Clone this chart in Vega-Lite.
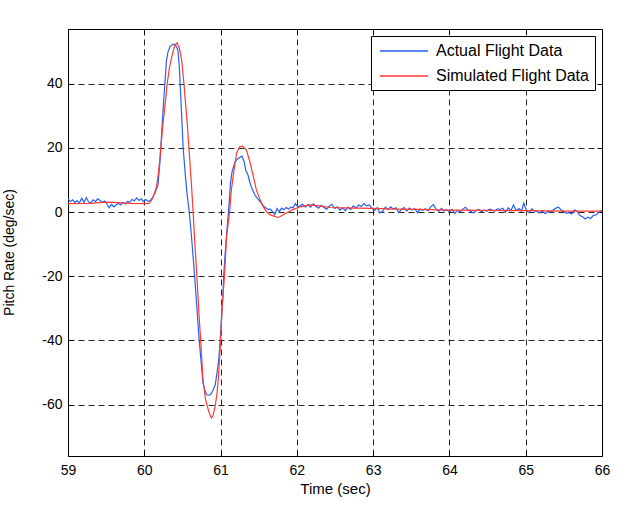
{
  "$schema": "https://vega.github.io/schema/vega-lite/v6.json",
  "width": 534,
  "height": 427,
  "autosize": {"type": "none"},
  "padding": {"left": 68, "top": 29, "right": 19, "bottom": 58},
  "background": "white",
  "config": {
    "font": "Liberation Sans",
    "view": {"stroke": "#000", "strokeWidth": 1},
    "axis": {
      "labelColor": "#000", "tickColor": "#000", "titleColor": "#000",
      "labelFont": "Liberation Sans", "titleFont": "Liberation Sans",
      "titleFontWeight": "normal", "domain": false,
      "tickSize": -5, "tickWidth": 1, "labelFlush": false,
      "labelExpr": "toString(datum.value)"
    },
    "legend": {
      "orient": "top-right", "offset": 7, "title": null,
      "symbolType": "M-3,0H3", "symbolSize": 256, "symbolStrokeWidth": 1.3, "symbolOffset": 18,
      "labelFontSize": 16, "labelFont": "Liberation Sans", "labelColor": "#000",
      "labelOffset": 23, "padding": 6, "rowPadding": 8,
      "strokeColor": "#000", "fillColor": "white", "labelLimit": 300
    }
  },
  "datasets": {
    "flight": [
      {"t":59.00,"v":4.2,"s":"Actual Flight Data"},{"t":59.03,"v":3.2,"s":"Actual Flight Data"},{"t":59.06,"v":3.8,"s":"Actual Flight Data"},{"t":59.09,"v":3.0,"s":"Actual Flight Data"},{"t":59.12,"v":3.5,"s":"Actual Flight Data"},{"t":59.15,"v":2.9,"s":"Actual Flight Data"},{"t":59.18,"v":4.3,"s":"Actual Flight Data"},{"t":59.21,"v":3.0,"s":"Actual Flight Data"},{"t":59.24,"v":4.5,"s":"Actual Flight Data"},{"t":59.27,"v":3.1,"s":"Actual Flight Data"},{"t":59.30,"v":2.9,"s":"Actual Flight Data"},{"t":59.33,"v":3.8,"s":"Actual Flight Data"},{"t":59.36,"v":3.2,"s":"Actual Flight Data"},{"t":59.39,"v":4.1,"s":"Actual Flight Data"},{"t":59.42,"v":3.6,"s":"Actual Flight Data"},{"t":59.45,"v":3.0,"s":"Actual Flight Data"},{"t":59.48,"v":3.4,"s":"Actual Flight Data"},{"t":59.51,"v":2.5,"s":"Actual Flight Data"},{"t":59.54,"v":1.3,"s":"Actual Flight Data"},{"t":59.57,"v":2.4,"s":"Actual Flight Data"},{"t":59.60,"v":1.6,"s":"Actual Flight Data"},{"t":59.63,"v":2.2,"s":"Actual Flight Data"},{"t":59.66,"v":2.7,"s":"Actual Flight Data"},{"t":59.69,"v":2.2,"s":"Actual Flight Data"},{"t":59.72,"v":3.0,"s":"Actual Flight Data"},{"t":59.75,"v":2.5,"s":"Actual Flight Data"},{"t":59.78,"v":3.3,"s":"Actual Flight Data"},{"t":59.81,"v":3.0,"s":"Actual Flight Data"},{"t":59.84,"v":3.9,"s":"Actual Flight Data"},{"t":59.87,"v":3.5,"s":"Actual Flight Data"},{"t":59.90,"v":4.4,"s":"Actual Flight Data"},{"t":59.93,"v":3.6,"s":"Actual Flight Data"},{"t":59.96,"v":4.1,"s":"Actual Flight Data"},{"t":59.99,"v":3.2,"s":"Actual Flight Data"},{"t":60.02,"v":3.9,"s":"Actual Flight Data"},{"t":60.05,"v":3.3,"s":"Actual Flight Data"},{"t":60.08,"v":3.6,"s":"Actual Flight Data"},{"t":60.11,"v":4.5,"s":"Actual Flight Data"},{"t":60.14,"v":6.0,"s":"Actual Flight Data"},{"t":60.18,"v":8.4,"s":"Actual Flight Data"},{"t":60.21,"v":17,"s":"Actual Flight Data"},{"t":60.23,"v":25.5,"s":"Actual Flight Data"},{"t":60.25,"v":33,"s":"Actual Flight Data"},{"t":60.27,"v":40,"s":"Actual Flight Data"},{"t":60.29,"v":47,"s":"Actual Flight Data"},{"t":60.31,"v":49.8,"s":"Actual Flight Data"},{"t":60.34,"v":51.6,"s":"Actual Flight Data"},{"t":60.38,"v":52.3,"s":"Actual Flight Data"},{"t":60.41,"v":52,"s":"Actual Flight Data"},{"t":60.44,"v":50.5,"s":"Actual Flight Data"},{"t":60.46,"v":45,"s":"Actual Flight Data"},{"t":60.47,"v":40,"s":"Actual Flight Data"},{"t":60.49,"v":30,"s":"Actual Flight Data"},{"t":60.51,"v":19.8,"s":"Actual Flight Data"},{"t":60.54,"v":11,"s":"Actual Flight Data"},{"t":60.56,"v":5.8,"s":"Actual Flight Data"},{"t":60.59,"v":0,"s":"Actual Flight Data"},{"t":60.62,"v":-8,"s":"Actual Flight Data"},{"t":60.64,"v":-14,"s":"Actual Flight Data"},{"t":60.66,"v":-20,"s":"Actual Flight Data"},{"t":60.69,"v":-30,"s":"Actual Flight Data"},{"t":60.72,"v":-40,"s":"Actual Flight Data"},{"t":60.75,"v":-48,"s":"Actual Flight Data"},{"t":60.77,"v":-53.3,"s":"Actual Flight Data"},{"t":60.80,"v":-56,"s":"Actual Flight Data"},{"t":60.82,"v":-57,"s":"Actual Flight Data"},{"t":60.86,"v":-57,"s":"Actual Flight Data"},{"t":60.88,"v":-56.5,"s":"Actual Flight Data"},{"t":60.91,"v":-55,"s":"Actual Flight Data"},{"t":60.93,"v":-53.8,"s":"Actual Flight Data"},{"t":60.96,"v":-49,"s":"Actual Flight Data"},{"t":60.98,"v":-45,"s":"Actual Flight Data"},{"t":61.00,"v":-38,"s":"Actual Flight Data"},{"t":61.01,"v":-33.6,"s":"Actual Flight Data"},{"t":61.03,"v":-26,"s":"Actual Flight Data"},{"t":61.04,"v":-20.3,"s":"Actual Flight Data"},{"t":61.06,"v":-13,"s":"Actual Flight Data"},{"t":61.08,"v":-6.6,"s":"Actual Flight Data"},{"t":61.11,"v":2,"s":"Actual Flight Data"},{"t":61.13,"v":9,"s":"Actual Flight Data"},{"t":61.15,"v":12.5,"s":"Actual Flight Data"},{"t":61.19,"v":15.7,"s":"Actual Flight Data"},{"t":61.23,"v":16.7,"s":"Actual Flight Data"},{"t":61.28,"v":17.4,"s":"Actual Flight Data"},{"t":61.31,"v":15.6,"s":"Actual Flight Data"},{"t":61.33,"v":13,"s":"Actual Flight Data"},{"t":61.36,"v":11.5,"s":"Actual Flight Data"},{"t":61.38,"v":9.5,"s":"Actual Flight Data"},{"t":61.41,"v":7.4,"s":"Actual Flight Data"},{"t":61.45,"v":5.3,"s":"Actual Flight Data"},{"t":61.49,"v":4.0,"s":"Actual Flight Data"},{"t":61.52,"v":3.2,"s":"Actual Flight Data"},{"t":61.55,"v":2.2,"s":"Actual Flight Data"},{"t":61.58,"v":1.5,"s":"Actual Flight Data"},{"t":61.62,"v":0.8,"s":"Actual Flight Data"},{"t":61.65,"v":0.9,"s":"Actual Flight Data"},{"t":61.67,"v":0.4,"s":"Actual Flight Data"},{"t":61.71,"v":-0.8,"s":"Actual Flight Data"},{"t":61.74,"v":1.1,"s":"Actual Flight Data"},{"t":61.77,"v":0.1,"s":"Actual Flight Data"},{"t":61.80,"v":1.2,"s":"Actual Flight Data"},{"t":61.83,"v":0.7,"s":"Actual Flight Data"},{"t":61.86,"v":1.4,"s":"Actual Flight Data"},{"t":61.89,"v":0.9,"s":"Actual Flight Data"},{"t":61.92,"v":1.5,"s":"Actual Flight Data"},{"t":61.95,"v":1.3,"s":"Actual Flight Data"},{"t":61.98,"v":2.6,"s":"Actual Flight Data"},{"t":62.01,"v":1.7,"s":"Actual Flight Data"},
      {"t":62.04,"v":1.9,"s":"Actual Flight Data"},{"t":62.075,"v":2.4,"s":"Actual Flight Data"},{"t":62.11,"v":1.6,"s":"Actual Flight Data"},{"t":62.145,"v":2.3,"s":"Actual Flight Data"},{"t":62.18,"v":1.5,"s":"Actual Flight Data"},{"t":62.215,"v":2.5,"s":"Actual Flight Data"},{"t":62.25,"v":1.7,"s":"Actual Flight Data"},{"t":62.285,"v":1.2,"s":"Actual Flight Data"},{"t":62.32,"v":2.1,"s":"Actual Flight Data"},{"t":62.355,"v":1.4,"s":"Actual Flight Data"},{"t":62.39,"v":0.9,"s":"Actual Flight Data"},{"t":62.425,"v":1.8,"s":"Actual Flight Data"},{"t":62.46,"v":2.4,"s":"Actual Flight Data"},{"t":62.495,"v":1.1,"s":"Actual Flight Data"},{"t":62.53,"v":1.6,"s":"Actual Flight Data"},{"t":62.565,"v":0.6,"s":"Actual Flight Data"},{"t":62.60,"v":1.3,"s":"Actual Flight Data"},{"t":62.635,"v":0.4,"s":"Actual Flight Data"},{"t":62.67,"v":1.5,"s":"Actual Flight Data"},{"t":62.705,"v":0.8,"s":"Actual Flight Data"},{"t":62.74,"v":1.9,"s":"Actual Flight Data"},{"t":62.775,"v":1.2,"s":"Actual Flight Data"},{"t":62.81,"v":2.2,"s":"Actual Flight Data"},{"t":62.845,"v":1.7,"s":"Actual Flight Data"},{"t":62.88,"v":2.6,"s":"Actual Flight Data"},{"t":62.915,"v":1.9,"s":"Actual Flight Data"},{"t":62.95,"v":2.2,"s":"Actual Flight Data"},{"t":62.985,"v":1.1,"s":"Actual Flight Data"},{"t":63.02,"v":0.5,"s":"Actual Flight Data"},{"t":63.055,"v":1.4,"s":"Actual Flight Data"},{"t":63.09,"v":-0.3,"s":"Actual Flight Data"},{"t":63.125,"v":0.2,"s":"Actual Flight Data"},{"t":63.16,"v":1.5,"s":"Actual Flight Data"},{"t":63.195,"v":0.7,"s":"Actual Flight Data"},{"t":63.23,"v":1.6,"s":"Actual Flight Data"},{"t":63.265,"v":0.9,"s":"Actual Flight Data"},{"t":63.30,"v":1.3,"s":"Actual Flight Data"},{"t":63.335,"v":-0.2,"s":"Actual Flight Data"},{"t":63.37,"v":0.8,"s":"Actual Flight Data"},{"t":63.405,"v":1.4,"s":"Actual Flight Data"},{"t":63.44,"v":0.3,"s":"Actual Flight Data"},{"t":63.475,"v":1.2,"s":"Actual Flight Data"},{"t":63.51,"v":0.6,"s":"Actual Flight Data"},{"t":63.545,"v":1.1,"s":"Actual Flight Data"},{"t":63.58,"v":-0.2,"s":"Actual Flight Data"},{"t":63.615,"v":0.9,"s":"Actual Flight Data"},{"t":63.65,"v":0.5,"s":"Actual Flight Data"},{"t":63.685,"v":1.0,"s":"Actual Flight Data"},{"t":63.72,"v":0.4,"s":"Actual Flight Data"},{"t":63.755,"v":1.6,"s":"Actual Flight Data"},{"t":63.79,"v":2.3,"s":"Actual Flight Data"},{"t":63.825,"v":0.9,"s":"Actual Flight Data"},{"t":63.86,"v":0.2,"s":"Actual Flight Data"},{"t":63.895,"v":1.1,"s":"Actual Flight Data"},{"t":63.93,"v":0.3,"s":"Actual Flight Data"},{"t":63.965,"v":0.7,"s":"Actual Flight Data"},{"t":64.00,"v":0.1,"s":"Actual Flight Data"},{"t":64.035,"v":0.8,"s":"Actual Flight Data"},{"t":64.07,"v":-0.4,"s":"Actual Flight Data"},{"t":64.105,"v":0.5,"s":"Actual Flight Data"},{"t":64.14,"v":0.0,"s":"Actual Flight Data"},{"t":64.175,"v":0.9,"s":"Actual Flight Data"},{"t":64.21,"v":1.5,"s":"Actual Flight Data"},{"t":64.245,"v":0.6,"s":"Actual Flight Data"},{"t":64.28,"v":0.2,"s":"Actual Flight Data"},{"t":64.315,"v":-0.3,"s":"Actual Flight Data"},{"t":64.35,"v":0.4,"s":"Actual Flight Data"},{"t":64.385,"v":0.8,"s":"Actual Flight Data"},{"t":64.42,"v":0.1,"s":"Actual Flight Data"},{"t":64.455,"v":0.6,"s":"Actual Flight Data"},{"t":64.49,"v":0.2,"s":"Actual Flight Data"},{"t":64.525,"v":0.9,"s":"Actual Flight Data"},{"t":64.56,"v":0.6,"s":"Actual Flight Data"},{"t":64.595,"v":0.3,"s":"Actual Flight Data"},{"t":64.63,"v":1.0,"s":"Actual Flight Data"},{"t":64.665,"v":0.8,"s":"Actual Flight Data"},{"t":64.70,"v":1.2,"s":"Actual Flight Data"},{"t":64.735,"v":-0.1,"s":"Actual Flight Data"},{"t":64.77,"v":1.3,"s":"Actual Flight Data"},{"t":64.805,"v":0.4,"s":"Actual Flight Data"},{"t":64.84,"v":2.2,"s":"Actual Flight Data"},{"t":64.875,"v":0.5,"s":"Actual Flight Data"},{"t":64.91,"v":1.1,"s":"Actual Flight Data"},{"t":64.945,"v":0.3,"s":"Actual Flight Data"},{"t":64.975,"v":2.8,"s":"Actual Flight Data"},{"t":65.01,"v":0.4,"s":"Actual Flight Data"},{"t":65.045,"v":-0.2,"s":"Actual Flight Data"},{"t":65.08,"v":1.0,"s":"Actual Flight Data"},{"t":65.115,"v":0.3,"s":"Actual Flight Data"},{"t":65.15,"v":0.1,"s":"Actual Flight Data"},{"t":65.185,"v":-0.3,"s":"Actual Flight Data"},{"t":65.22,"v":0.4,"s":"Actual Flight Data"},{"t":65.255,"v":-0.5,"s":"Actual Flight Data"},{"t":65.29,"v":0.2,"s":"Actual Flight Data"},{"t":65.325,"v":0.0,"s":"Actual Flight Data"},{"t":65.36,"v":0.6,"s":"Actual Flight Data"},{"t":65.395,"v":1.2,"s":"Actual Flight Data"},{"t":65.43,"v":1.5,"s":"Actual Flight Data"},{"t":65.465,"v":0.6,"s":"Actual Flight Data"},{"t":65.50,"v":0.2,"s":"Actual Flight Data"},{"t":65.535,"v":-0.4,"s":"Actual Flight Data"},{"t":65.57,"v":-0.2,"s":"Actual Flight Data"},{"t":65.605,"v":-0.6,"s":"Actual Flight Data"},{"t":65.64,"v":0.7,"s":"Actual Flight Data"},{"t":65.675,"v":0.2,"s":"Actual Flight Data"},{"t":65.71,"v":-1.1,"s":"Actual Flight Data"},{"t":65.745,"v":-1.5,"s":"Actual Flight Data"},{"t":65.78,"v":-2.2,"s":"Actual Flight Data"},{"t":65.815,"v":-1.6,"s":"Actual Flight Data"},{"t":65.85,"v":-2.0,"s":"Actual Flight Data"},{"t":65.885,"v":-1.1,"s":"Actual Flight Data"},{"t":65.92,"v":-0.9,"s":"Actual Flight Data"},{"t":65.955,"v":-0.2,"s":"Actual Flight Data"},{"t":65.99,"v":0.4,"s":"Actual Flight Data"},{"t":66.0,"v":0.5,"s":"Actual Flight Data"},
      {"t":59.0,"v":2.6,"s":"Simulated Flight Data"},{"t":59.3,"v":2.7,"s":"Simulated Flight Data"},{"t":59.5,"v":3.1,"s":"Simulated Flight Data"},{"t":59.6,"v":3.0,"s":"Simulated Flight Data"},{"t":59.8,"v":2.7,"s":"Simulated Flight Data"},{"t":60.0,"v":2.6,"s":"Simulated Flight Data"},{"t":60.06,"v":2.7,"s":"Simulated Flight Data"},{"t":60.10,"v":3.8,"s":"Simulated Flight Data"},{"t":60.13,"v":5.5,"s":"Simulated Flight Data"},{"t":60.16,"v":7.9,"s":"Simulated Flight Data"},{"t":60.19,"v":13,"s":"Simulated Flight Data"},{"t":60.21,"v":18.3,"s":"Simulated Flight Data"},{"t":60.23,"v":23.5,"s":"Simulated Flight Data"},{"t":60.25,"v":28.6,"s":"Simulated Flight Data"},{"t":60.28,"v":35,"s":"Simulated Flight Data"},{"t":60.30,"v":40,"s":"Simulated Flight Data"},{"t":60.33,"v":45,"s":"Simulated Flight Data"},{"t":60.36,"v":48.3,"s":"Simulated Flight Data"},{"t":60.40,"v":51.9,"s":"Simulated Flight Data"},{"t":60.43,"v":52.7,"s":"Simulated Flight Data"},{"t":60.46,"v":51,"s":"Simulated Flight Data"},{"t":60.49,"v":47.3,"s":"Simulated Flight Data"},{"t":60.52,"v":40,"s":"Simulated Flight Data"},{"t":60.54,"v":34,"s":"Simulated Flight Data"},{"t":60.56,"v":28.6,"s":"Simulated Flight Data"},{"t":60.59,"v":18.3,"s":"Simulated Flight Data"},{"t":60.62,"v":7.9,"s":"Simulated Flight Data"},{"t":60.64,"v":0,"s":"Simulated Flight Data"},{"t":60.66,"v":-8.7,"s":"Simulated Flight Data"},{"t":60.69,"v":-20.3,"s":"Simulated Flight Data"},{"t":60.72,"v":-33,"s":"Simulated Flight Data"},{"t":60.74,"v":-40.2,"s":"Simulated Flight Data"},{"t":60.77,"v":-52.3,"s":"Simulated Flight Data"},{"t":60.80,"v":-58,"s":"Simulated Flight Data"},{"t":60.82,"v":-60,"s":"Simulated Flight Data"},{"t":60.85,"v":-62.5,"s":"Simulated Flight Data"},{"t":60.88,"v":-64.2,"s":"Simulated Flight Data"},{"t":60.90,"v":-63.5,"s":"Simulated Flight Data"},{"t":60.93,"v":-60.5,"s":"Simulated Flight Data"},{"t":60.95,"v":-57,"s":"Simulated Flight Data"},{"t":60.97,"v":-52.3,"s":"Simulated Flight Data"},{"t":61.00,"v":-40.2,"s":"Simulated Flight Data"},{"t":61.02,"v":-30,"s":"Simulated Flight Data"},{"t":61.05,"v":-20.3,"s":"Simulated Flight Data"},{"t":61.08,"v":-7.5,"s":"Simulated Flight Data"},{"t":61.12,"v":0.5,"s":"Simulated Flight Data"},{"t":61.14,"v":6.5,"s":"Simulated Flight Data"},{"t":61.17,"v":12,"s":"Simulated Flight Data"},{"t":61.21,"v":18.3,"s":"Simulated Flight Data"},{"t":61.25,"v":20.3,"s":"Simulated Flight Data"},{"t":61.29,"v":20.5,"s":"Simulated Flight Data"},{"t":61.34,"v":19.3,"s":"Simulated Flight Data"},{"t":61.39,"v":15.1,"s":"Simulated Flight Data"},{"t":61.43,"v":11,"s":"Simulated Flight Data"},{"t":61.47,"v":6.8,"s":"Simulated Flight Data"},{"t":61.52,"v":3.7,"s":"Simulated Flight Data"},{"t":61.56,"v":1.6,"s":"Simulated Flight Data"},{"t":61.60,"v":0.1,"s":"Simulated Flight Data"},{"t":61.65,"v":-0.9,"s":"Simulated Flight Data"},{"t":61.69,"v":-1.2,"s":"Simulated Flight Data"},{"t":61.76,"v":-1.7,"s":"Simulated Flight Data"},{"t":61.84,"v":-0.6,"s":"Simulated Flight Data"},{"t":61.93,"v":0.6,"s":"Simulated Flight Data"},{"t":62.04,"v":1.6,"s":"Simulated Flight Data"},{"t":62.17,"v":2.2,"s":"Simulated Flight Data"},{"t":62.30,"v":1.9,"s":"Simulated Flight Data"},{"t":62.43,"v":1.4,"s":"Simulated Flight Data"},{"t":62.6,"v":1.3,"s":"Simulated Flight Data"},{"t":62.8,"v":1.2,"s":"Simulated Flight Data"},{"t":63.0,"v":1.1,"s":"Simulated Flight Data"},{"t":63.3,"v":0.9,"s":"Simulated Flight Data"},{"t":63.6,"v":0.8,"s":"Simulated Flight Data"},{"t":64.0,"v":0.6,"s":"Simulated Flight Data"},{"t":64.5,"v":0.5,"s":"Simulated Flight Data"},{"t":65.0,"v":0.4,"s":"Simulated Flight Data"},{"t":65.5,"v":0.3,"s":"Simulated Flight Data"},{"t":66.0,"v":0.25,"s":"Simulated Flight Data"}
    ]
  },
  "data": {"name": "flight"},
  "layer": [
    {
      "transform": [{"filter": "datum.s === 'Actual Flight Data'"}],
      "mark": {"type": "line", "strokeWidth": 1.2, "clip": true},
      "encoding": {
        "x": {"field": "t", "type": "quantitative",
          "scale": {"domain": [59, 66], "nice": false, "zero": false},
          "axis": {"orient": "bottom", "values": [59,60,61,62,63,64,65,66],
            "title": "Time (sec)", "titleFontSize": 15, "titlePadding": 4,
            "labelFontSize": 14, "labelPadding": 12,
            "grid": true, "gridColor": "#000", "gridDash": [6, 4], "gridOpacity": 0.85, "gridWidth": 1}},
        "y": {"field": "v", "type": "quantitative",
          "scale": {"domain": [-76, 57], "nice": false, "zero": false},
          "axis": {"orient": "left", "values": [-60,-40,-20,0,20,40],
            "title": "Pitch Rate (deg/sec)", "titleFontSize": 14, "titleX": -52, "titleY": 223,
            "labelFontSize": 14, "labelPadding": 11,
            "grid": true, "gridColor": "#000", "gridDash": [6, 4], "gridOpacity": 0.85, "gridWidth": 1}},
        "color": {"field": "s", "type": "nominal",
          "scale": {"domain": ["Actual Flight Data", "Simulated Flight Data"], "range": ["#2660f5", "#ff3a30"]},
          "legend": {}},
        "order": {"field": "t", "type": "quantitative"}
      }
    },
    {
      "transform": [{"filter": "datum.s === 'Simulated Flight Data'"}],
      "mark": {"type": "line", "strokeWidth": 1.2, "clip": true},
      "encoding": {
        "x": {"field": "t", "type": "quantitative",
          "scale": {"domain": [59, 66], "nice": false, "zero": false},
          "axis": {"orient": "top", "values": [59,60,61,62,63,64,65,66], "labels": false, "title": null, "grid": false}},
        "y": {"field": "v", "type": "quantitative",
          "scale": {"domain": [-76, 57], "nice": false, "zero": false},
          "axis": {"orient": "right", "values": [-60,-40,-20,0,20,40], "labels": false, "title": null, "grid": false}},
        "color": {"field": "s", "type": "nominal",
          "scale": {"domain": ["Actual Flight Data", "Simulated Flight Data"], "range": ["#2660f5", "#ff3a30"]}},
        "order": {"field": "t", "type": "quantitative"}
      }
    }
  ],
  "resolve": {"axis": {"x": "independent", "y": "independent"}}
}
